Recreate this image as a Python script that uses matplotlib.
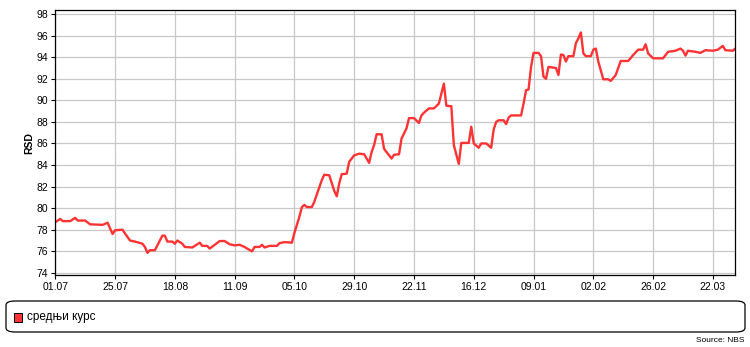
import numpy as np
import pandas as pd
import matplotlib
matplotlib.use("Agg")
import matplotlib.pyplot as plt
import matplotlib.dates as mdates
from matplotlib.patches import FancyBboxPatch, Rectangle

# days counted from 01.07.2008
start = pd.Timestamp("2008-07-01")
day_offsets = [0, 2, 3, 6, 8, 9, 12, 14, 19, 21, 23, 24, 27, 28, 30, 32, 35, 36, 37, 38,
               40, 42, 43, 44, 45, 47, 48, 49, 51, 52, 55, 58, 59, 61, 62, 66, 68, 70, 72, 74,
               76, 77, 79, 80, 82, 83, 84, 86, 89, 90, 92, 95, 96, 98, 99, 100, 101, 103, 104, 107,
               108, 110, 112, 113, 114, 115, 117, 118, 120, 122, 124, 126, 127, 128, 129, 131, 132, 135, 136, 138,
               139, 141, 142, 144, 146, 147, 148, 150, 152, 154, 156, 157, 159, 160, 162, 163, 166, 167, 168, 170,
               171, 173, 175, 176, 177, 178, 180, 181, 182, 183, 187, 188, 189, 190, 191, 192, 194, 195, 196, 197,
               198, 201, 202, 203, 204, 205, 206, 208, 209, 210, 211, 212, 213, 215, 216, 217, 218, 220, 222, 223,
               225, 227, 230, 232, 234, 236, 237, 238, 240, 244, 246, 249, 251, 252, 253, 254, 257, 259, 261, 264,
               266, 268, 269, 272, 273]
rates = [78.7, 79.0, 78.8, 78.8, 79.1, 78.85, 78.85, 78.5, 78.45, 78.65, 77.6, 77.95, 78.0, 77.65, 77.0, 76.9, 76.7, 76.4, 75.85, 76.1,
         76.1, 77.0, 77.45, 77.45, 76.9, 76.9, 76.7, 77.0, 76.7, 76.4, 76.35, 76.8, 76.5, 76.5, 76.25, 76.95, 76.95, 76.65, 76.55, 76.6,
         76.4, 76.25, 76.0, 76.4, 76.4, 76.6, 76.35, 76.5, 76.5, 76.75, 76.85, 76.8, 77.7, 79.2, 80.1, 80.3, 80.1, 80.1, 80.6, 82.6,
         83.1, 83.05, 81.6, 81.1, 82.3, 83.15, 83.2, 84.3, 84.9, 85.05, 85.0, 84.2, 85.2, 85.85, 86.85, 86.85, 85.5, 84.6, 84.95, 85.0,
         86.45, 87.4, 88.35, 88.35, 87.9, 88.6, 88.85, 89.25, 89.25, 89.7, 91.55, 89.5, 89.45, 85.85, 84.1, 86.05, 86.05, 87.55, 86.0, 85.6,
         86.0, 86.0, 85.6, 87.3, 88.0, 88.15, 88.15, 87.8, 88.4, 88.6, 88.6, 89.7, 90.95, 91.0, 93.1, 94.4, 94.4, 94.1, 92.2, 92.0,
         93.1, 93.0, 92.35, 94.25, 94.2, 93.6, 94.1, 94.1, 95.3, 95.75, 96.3, 94.35, 94.1, 94.1, 94.7, 94.8, 93.6, 91.95, 91.95, 91.8,
         92.35, 93.65, 93.65, 94.2, 94.7, 94.7, 95.2, 94.35, 93.9, 93.9, 94.5, 94.6, 94.8, 94.6, 94.15, 94.6, 94.5, 94.4, 94.65, 94.6,
         94.7, 95.05, 94.65, 94.6, 94.8]

dates = start + pd.to_timedelta(day_offsets, unit="D")
tick_dates = pd.date_range(start, periods=12, freq="24D")

plt.rcParams['font.family'] = ['Liberation Sans', 'DejaVu Sans']

fig = plt.figure(figsize=(7.5, 3.47), dpi=100)
ax = fig.add_axes([0.0737, 0.2075, 0.9067, 0.7628])

ax.plot(dates, rates, color='#ff3333', linewidth=1.7)

ax.set_xlim(start, pd.Timestamp("2009-03-31"))
ax.set_ylim(73.8, 98.35)
ax.set_yticks(np.arange(74, 99, 2))
ax.set_xticks(tick_dates)
ax.xaxis.set_major_formatter(mdates.DateFormatter("%d.%m"))
ax.tick_params(labelsize=7.5, length=3, width=0.8, colors='black', pad=2)
ax.grid(True, color='#c8c8c8', linewidth=0.9)
ax.set_axisbelow(True)
for s in ax.spines.values():
    s.set_linewidth(0.9)
ax.set_ylabel("RSD", fontsize=7.5, fontweight='bold', labelpad=2)

# legend box
fig.patches.append(FancyBboxPatch((6 / 750, 1 - 332 / 347), 739 / 750, 31 / 347,
                                  boxstyle="round,pad=0,rounding_size=0.012",
                                  transform=fig.transFigure, facecolor='white',
                                  edgecolor='black', linewidth=0.9))
fig.patches.append(Rectangle((14 / 750, 1 - 322 / 347), 8 / 750, 9 / 347,
                             transform=fig.transFigure, facecolor='#ff3333',
                             edgecolor='black', linewidth=0.7))
fig.text(27 / 750, 1 - 317 / 347, "средњи курс", fontsize=8.5, va='center', ha='left')
fig.text(744 / 750, 1 - 341 / 347, "Source: NBS", fontsize=6, va='center', ha='right')

fig.savefig("out.png", dpi=100)
